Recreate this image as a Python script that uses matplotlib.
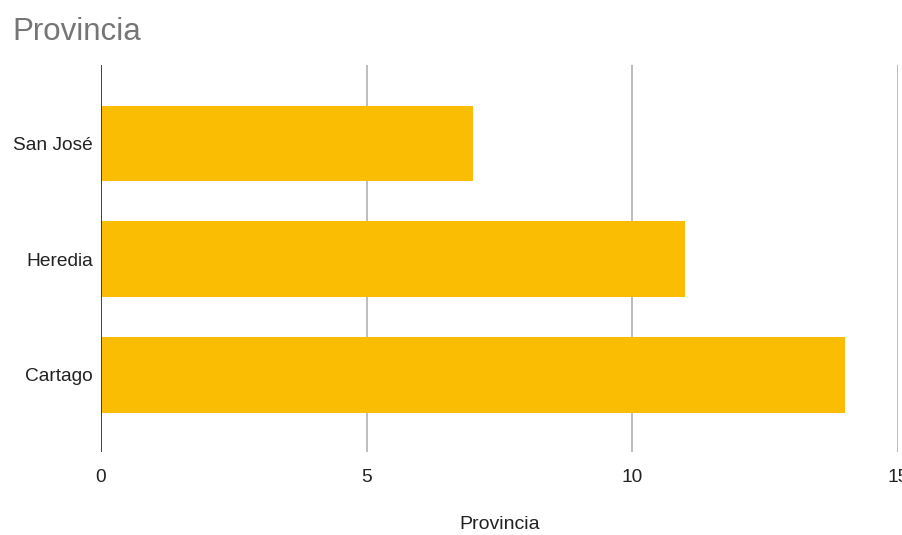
import matplotlib
matplotlib.use("Agg")
import matplotlib.pyplot as plt

categories = ["San José", "Heredia", "Cartago"]
values = [7, 11, 14]
x_ticks = [0, 5, 10, 15]

plt.rcParams['font.family'] = ['Liberation Sans', 'DejaVu Sans']

fig = plt.figure(figsize=(9.03, 5.35), dpi=100)
W, H = 903, 535
left, right, top, bottom = 101, 898, 65, 452
ax = fig.add_axes([left / W, 1 - bottom / H, (right - left) / W, (bottom - top) / H])

pos = list(range(len(categories)))[::-1]
ax.barh(pos, values, height=0.65, color="#FBBC04", zorder=3)

ax.set_xlim(0, 15)
ax.set_ylim(-0.665, 2.675)
ax.set_xticks(x_ticks)
ax.set_xticklabels([str(t) for t in x_ticks])
ax.set_yticks(pos)
ax.set_yticklabels(categories)

for t in x_ticks[1:]:
    ax.axvline(t, color="#b7b7b7", lw=1.3, zorder=1)
ax.axvline(0, color="#333333", lw=1.3, zorder=4)

for s in ax.spines.values():
    s.set_visible(False)
ax.tick_params(axis="both", length=0, labelsize=13.8, colors="#222222")
ax.tick_params(axis="x", pad=12)
ax.tick_params(axis="y", pad=6)

ax.set_xlabel("Provincia", fontsize=14, color="#222222", labelpad=22)
fig.text(12 / W, 1 - 32 / H, "Provincia", fontsize=22.5, color="#757575", va="center", ha="left")

fig.savefig("out.png", dpi=100)
